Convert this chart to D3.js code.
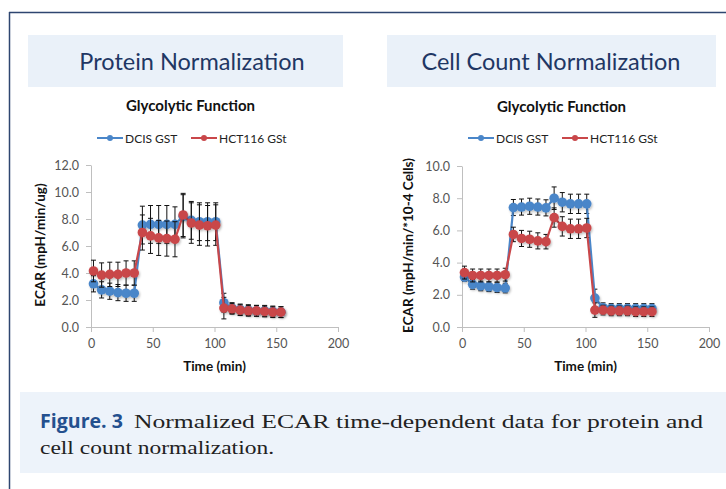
<html>
<script src='https://d3js.org/d3.v7.min.js'></script>
<style>
  body { margin: 0; background: #fff; }
  text { font-family: Lato, 'Open Sans', sans-serif; }
</style>
<body onload='init()'>
<svg width=726 height=489></svg>

<script>
// measurement times (min)
var times = [2.0, 8.6, 15.2, 21.8, 28.4, 35.0, 41.6, 48.2, 54.8, 61.4, 68.0, 74.6,
             81.2, 87.8, 94.4, 101.0, 107.6, 114.2, 120.8, 127.4, 134.0, 140.6, 147.2, 153.8];

var seriesNames = ['DCIS GST', 'HCT116 GSt'];

// protein normalization
var protDcis    = [3.2, 2.75, 2.65, 2.55, 2.5, 2.5, 7.55, 7.6, 7.6, 7.6, 7.6, 8.2,
                   7.9, 7.8, 7.8, 7.8, 1.8, 1.4, 1.3, 1.25, 1.2, 1.2, 1.15, 1.1];
var protDcisErr = [0.6, 0.6, 0.6, 0.6, 0.6, 0.6, 1.4, 1.4, 1.4, 1.4, 1.3, 1.6,
                   1.4, 1.4, 1.4, 1.4, 0.7, 0.4, 0.4, 0.4, 0.4, 0.4, 0.4, 0.4];
var protHct     = [4.15, 3.85, 3.9, 3.9, 4.0, 4.0, 7.0, 6.75, 6.6, 6.55, 6.5, 8.3,
                   7.7, 7.55, 7.5, 7.55, 1.4, 1.35, 1.25, 1.2, 1.2, 1.15, 1.1, 1.1];
var protHctErr  = [0.8, 0.9, 0.9, 0.9, 0.9, 0.9, 1.3, 1.3, 1.3, 1.3, 1.3, 1.6,
                   1.5, 1.5, 1.5, 1.5, 0.8, 0.4, 0.4, 0.4, 0.4, 0.4, 0.4, 0.4];

// cell count normalization
var cellDcis    = [3.1, 2.65, 2.55, 2.5, 2.45, 2.42, 7.42, 7.45, 7.5, 7.45, 7.4, 8.0,
                   7.75, 7.65, 7.65, 7.65, 1.8, 1.2, 1.15, 1.15, 1.15, 1.15, 1.15, 1.15];
var cellDcisErr = [0.25, 0.3, 0.3, 0.3, 0.3, 0.3, 0.5, 0.5, 0.5, 0.5, 0.5, 0.7,
                   0.6, 0.6, 0.6, 0.6, 0.55, 0.3, 0.3, 0.3, 0.3, 0.3, 0.3, 0.3];
var cellHct     = [3.38, 3.2, 3.2, 3.2, 3.2, 3.25, 5.75, 5.5, 5.45, 5.35, 5.3, 6.8,
                   6.25, 6.1, 6.1, 6.15, 1.05, 1.05, 1.0, 1.0, 1.0, 0.95, 0.95, 0.95];
var cellHctErr  = [0.4, 0.4, 0.4, 0.4, 0.4, 0.4, 0.45, 0.5, 0.5, 0.5, 0.45, 0.6,
                   0.6, 0.6, 0.6, 0.6, 0.45, 0.3, 0.3, 0.3, 0.3, 0.3, 0.3, 0.3];

var xTicks = [0, 50, 100, 150, 200];
var protYTicks = [0, 2, 4, 6, 8, 10, 12];
var cellYTicks = [0, 2, 4, 6, 8, 10];

var colors = ['#4a86c9', '#c9474a'];

function init() {
    var svg = d3.select('svg');

    // drop shadow for markers
    var f = svg.append('defs').append('filter').attr('id', 'sh')
        .attr('x', '-50%').attr('y', '-50%').attr('width', '200%').attr('height', '200%');
    f.append('feDropShadow').attr('dx', 1).attr('dy', 1.5).attr('stdDeviation', 1)
        .attr('flood-color', '#000').attr('flood-opacity', 0.25);

    // outer frame
    svg.append('line').attr('x1', 9).attr('y1', 12.5).attr('x2', 726).attr('y2', 12.5)
        .attr('stroke', '#2e4670').attr('stroke-width', 1.5);
    svg.append('line').attr('x1', 9.5).attr('y1', 12).attr('x2', 9.5).attr('y2', 489)
        .attr('stroke', '#2e4670').attr('stroke-width', 1.5);

    drawPanel(svg, {
        header: 'Protein Normalization', box: [28, 35, 315, 52], hdrX: 192,
        x0: 91, y0: 165, yTicks: protYTicks, yMax: 12,
        yTitle: 'ECAR (mpH/min/ug)', yTitleX: 45, legendX: 97,
        series: [[protDcis, protDcisErr], [protHct, protHctErr]]
    });
    drawPanel(svg, {
        header: 'Cell Count Normalization', box: [387, 35, 329, 52], hdrX: 551,
        x0: 462, y0: 166, yTicks: cellYTicks, yMax: 10,
        yTitle: 'ECAR (mpH/min/*10-4 Cells)', yTitleX: 413, legendX: 468,
        series: [[cellDcis, cellDcisErr], [cellHct, cellHctErr]]
    });

    // caption
    svg.append('rect').attr('x', 20).attr('y', 392).attr('width', 706).attr('height', 81)
        .attr('fill', '#edf3fa');
    svg.append('text').attr('x', 40).attr('y', 428).attr('font-size', 19)
        .attr('font-weight', 'bold').attr('fill', '#24508e')
        .attr('textLength', 83).attr('lengthAdjust', 'spacingAndGlyphs')
        .style('font-family', "'Open Sans', sans-serif").text('Figure. 3');
    svg.append('text').attr('x', 134).attr('y', 428).attr('font-size', 19).attr('fill', '#222')
        .style('font-family', "'Liberation Serif', serif")
        .attr('textLength', 569).attr('lengthAdjust', 'spacingAndGlyphs')
        .text('Normalized ECAR time-dependent data for protein and');
    svg.append('text').attr('x', 40).attr('y', 454).attr('font-size', 19).attr('fill', '#222')
        .style('font-family', "'Liberation Serif', serif")
        .attr('textLength', 234).attr('lengthAdjust', 'spacingAndGlyphs')
        .text('cell count normalization.');
}

function drawPanel(svg, c) {
    var width = 247, height = 327 - c.y0;

    // header box
    svg.append('rect').attr('x', c.box[0]).attr('y', c.box[1])
        .attr('width', c.box[2]).attr('height', c.box[3]).attr('fill', '#eaf1f9');
    svg.append('text').attr('x', c.hdrX).attr('y', c.box[1] + 35)
        .attr('text-anchor', 'middle').attr('font-size', 23.5).attr('fill', '#1f3764')
        .text(c.header);

    var xScale = d3.scaleLinear().domain([0, 200]).range([0, width]);
    var yScale = d3.scaleLinear().domain([0, c.yMax]).range([height, 0]);

    var g = svg.append('g').attr('transform', 'translate(' + c.x0 + ',' + c.y0 + ')');

    // title
    g.append('text').attr('x', width / 2 - 24).attr('y', -54).attr('text-anchor', 'middle')
        .attr('font-size', 15).attr('font-weight', 'bold').attr('fill', '#111')
        .text('Glycolytic Function');

    // legend
    var lg = svg.append('g').attr('transform', 'translate(' + c.legendX + ',138)');
    seriesNames.forEach(function(name, i) {
        var item = lg.append('g').attr('transform', 'translate(' + (i * 94) + ',0)');
        item.append('line').attr('x1', 0).attr('x2', 26).attr('stroke', colors[i]).attr('stroke-width', 2);
        item.append('circle').attr('cx', 13).attr('r', 3).attr('fill', colors[i]);
        item.append('text').attr('x', 28).attr('y', 4.5).attr('font-size', 12).attr('fill', '#222')
            .text(name);
    });

    // axes
    var yAxis = g.append('g')
        .call(d3.axisLeft(yScale).tickValues(c.yTicks).tickFormat(d3.format('.1f'))
            .tickSize(5).tickSizeOuter(0).tickPadding(7));
    var xAxis = g.append('g').attr('transform', 'translate(0,' + height + ')')
        .call(d3.axisBottom(xScale).tickValues(xTicks).tickSize(5).tickSizeOuter(0).tickPadding(7));
    [xAxis, yAxis].forEach(function(a) {
        a.select('.domain').attr('stroke', '#bfbfbf');
        a.selectAll('.tick line').attr('stroke', '#bfbfbf');
        a.selectAll('.tick text').attr('fill', '#555').attr('font-size', 12.5)
            .style('font-family', "Lato, 'Open Sans', sans-serif");
    });

    g.append('text').attr('x', xScale(100)).attr('y', height + 44).attr('text-anchor', 'middle')
        .attr('font-size', 13.5).attr('font-weight', 'bold').attr('fill', '#111').text('Time (min)');
    g.append('text')
        .attr('transform', 'translate(' + (c.yTitleX - c.x0) + ',' + (yScale(c.yMax / 2) - 1) + ') rotate(-90)')
        .attr('text-anchor', 'middle').attr('font-size', 13.5).attr('font-weight', 'bold')
        .attr('fill', '#111').text(c.yTitle);

    var line = d3.line().x(function(d, i) { return xScale(times[i]); })
        .y(function(d) { return yScale(d); });

    c.series.forEach(function(s, si) {
        var vals = s[0], errs = s[1];
        var sg = g.append('g');
        // error bars
        var eb = sg.selectAll('g.eb').data(vals).enter().append('g')
            .attr('stroke', '#111').attr('stroke-width', 1);
        eb.append('line')
            .attr('x1', function(d, i) { return xScale(times[i]); })
            .attr('x2', function(d, i) { return xScale(times[i]); })
            .attr('y1', function(d, i) { return yScale(d - errs[i]); })
            .attr('y2', function(d, i) { return yScale(d + errs[i]); });
        [-1, 1].forEach(function(sign) {
            eb.append('line')
                .attr('x1', function(d, i) { return xScale(times[i]) - 2.5; })
                .attr('x2', function(d, i) { return xScale(times[i]) + 2.5; })
                .attr('y1', function(d, i) { return yScale(d + sign * errs[i]); })
                .attr('y2', function(d, i) { return yScale(d + sign * errs[i]); });
        });
        sg.append('path').datum(vals).attr('d', line).attr('fill', 'none')
            .attr('stroke', colors[si]).attr('stroke-width', 2.2);
        sg.selectAll('circle').data(vals).enter().append('circle')
            .attr('cx', function(d, i) { return xScale(times[i]); })
            .attr('cy', function(d) { return yScale(d); })
            .attr('r', 4.8).attr('fill', colors[si]).attr('filter', 'url(#sh)');
    });
}
</script>
</body>
</html>
